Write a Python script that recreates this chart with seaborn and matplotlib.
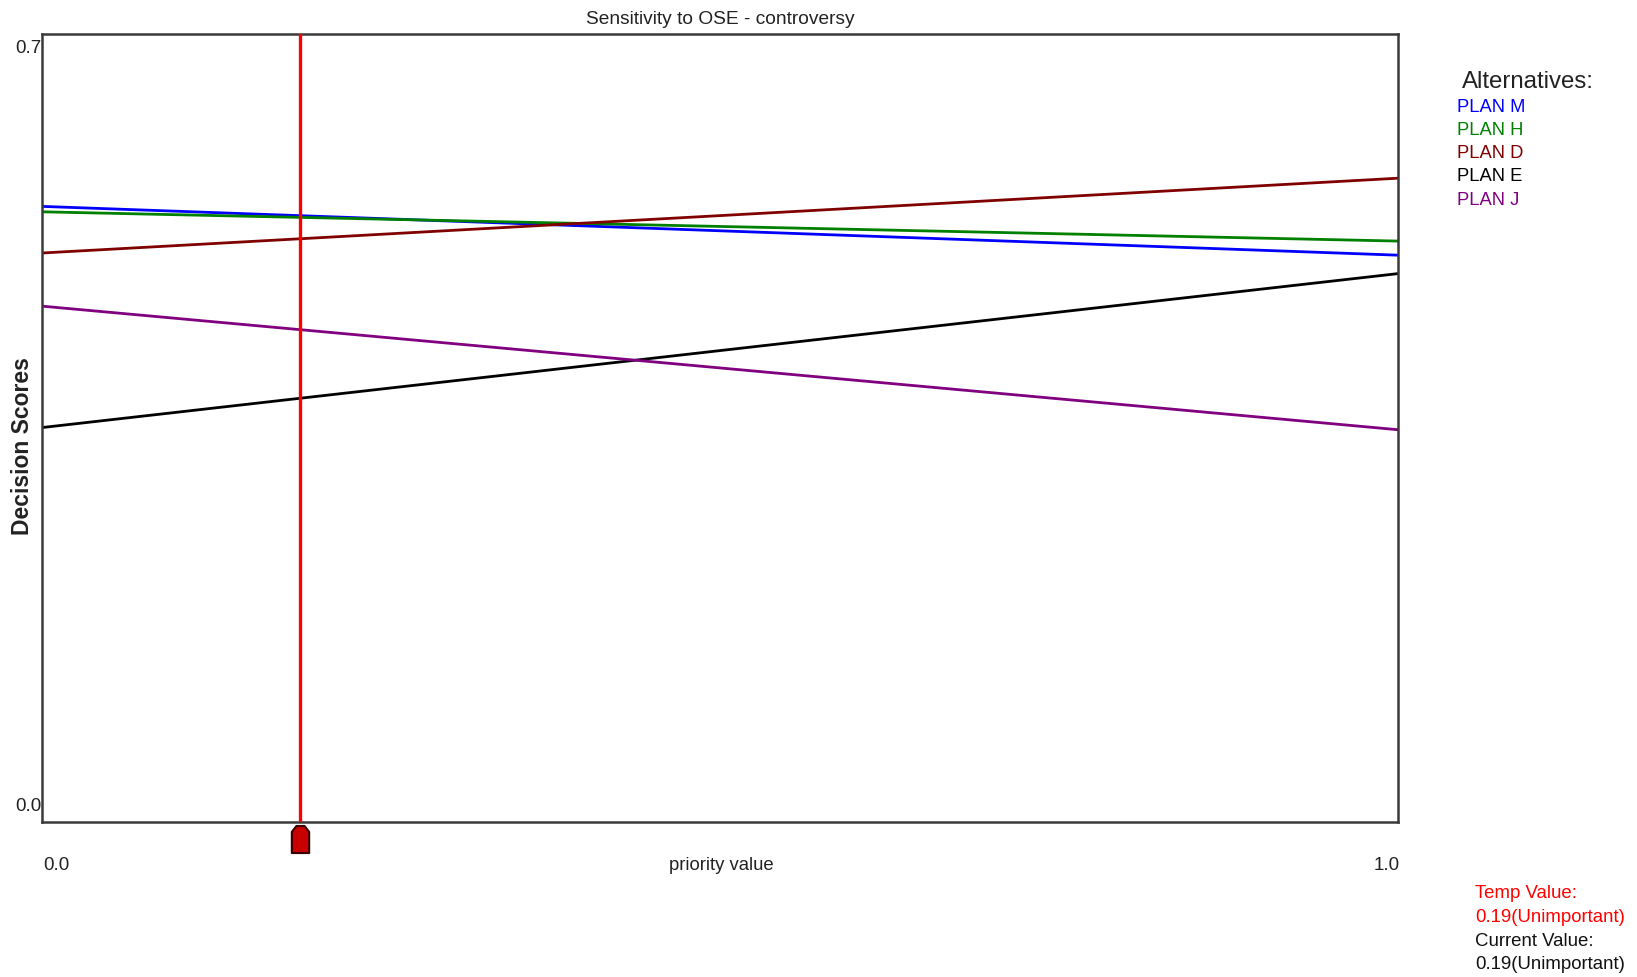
import numpy as np
import pandas as pd
import matplotlib
matplotlib.use("Agg")
import matplotlib.pyplot as plt
import matplotlib.transforms as mtransforms
from matplotlib.path import Path
import seaborn as sns

# ---------------- data ----------------
priority = [0.0, 1.0]
plan_m = [0.553, 0.508]
plan_h = [0.548, 0.521]
plan_d = [0.510, 0.579]
plan_e = [0.349, 0.491]
plan_j = [0.461, 0.347]
alternatives = ["PLAN M", "PLAN H", "PLAN D", "PLAN E", "PLAN J"]
colors = ["#0000FF", "#008000", "#800000", "#000000", "#800080"]
current_value = 0.19
y_tick_values = [0.0, 0.7]
y_tick_labels = ["0.0", "0.7"]
title = "Sensitivity to OSE - controversy"

series = [plan_m, plan_h, plan_d, plan_e, plan_j]
df = pd.DataFrame({
    "priority": priority * len(alternatives),
    "score": [v for s in series for v in s],
    "alt": [a for a in alternatives for _ in priority],
})

sns.set_theme(style="white")
plt.rcParams["font.family"] = ["Liberation Sans", "DejaVu Sans"]

W, H = 1637, 978
fig = plt.figure(figsize=(W / 100, H / 100), dpi=100)


def fx(x):
    return x / W


def fy(y):
    return 1 - y / H


ax_l, ax_r, ax_t, ax_b = 42, 1398, 35, 823
ax = fig.add_axes([fx(ax_l), fy(ax_b), (ax_r - ax_l) / W, (ax_b - ax_t) / H])

sns.lineplot(data=df, x="priority", y="score", hue="alt", hue_order=alternatives,
             palette=dict(zip(alternatives, colors)), linewidth=2.0, legend=False, ax=ax)

ax.set_xlim(0, 1)
ax.set_ylim(-0.0148, 0.712)
ax.set_xticks([])
ax.set_yticks([])
ax.set_xlabel("")
ax.set_ylabel("")
for sp in ax.spines.values():
    sp.set_color("#3a3a3a")
    sp.set_linewidth(1.8)

ax.axvline(current_value, color="#FF0000", lw=2.4, zorder=5)

# slider marker
mk = Path([(-0.32, -0.5), (0.32, -0.5), (0.32, 0.28), (0.15, 0.5), (-0.15, 0.5),
           (-0.32, 0.28), (-0.32, -0.5)],
          [Path.MOVETO, Path.LINETO, Path.LINETO, Path.LINETO, Path.LINETO,
           Path.LINETO, Path.CLOSEPOLY])
btrans = mtransforms.blended_transform_factory(ax.transData, ax.transAxes)
ax.plot([current_value], [(H - 840 - (H - ax_b)) / (ax_b - ax_t)], marker=mk,
        markersize=19.5, markerfacecolor="#C80000", markeredgecolor="#3a0000",
        markeredgewidth=1.5, transform=btrans, clip_on=False, zorder=6)

# y tick labels
ytrans = mtransforms.blended_transform_factory(ax.transAxes, ax.transData)
for v, lab in zip(y_tick_values, y_tick_labels):
    ax.text(0.0, v, lab, transform=ytrans, ha="right", va="center",
            fontsize=13.5, color="#222222")

# title and axis labels
fig.text(fx(720), fy(20), title, ha="center", va="center", fontsize=13.8, color="#222222")
fig.text(fx(23), fy(446), "Decision Scores", rotation=90, ha="center", va="center",
         fontsize=16.5, fontweight="bold", color="#222222")
fig.text(fx(43), fy(866), "0.0", ha="left", va="center", fontsize=13.5, color="#222222")
fig.text(fx(1400), fy(866), "1.0", ha="right", va="center", fontsize=13.5, color="#222222")
fig.text(fx(721), fy(866), "priority value", ha="center", va="center", fontsize=13.3,
         color="#222222")

# legend
fig.text(fx(1462), fy(82), "Alternatives:", ha="left", va="center", fontsize=17.3,
         color="#222222")
for i, (a, c) in enumerate(zip(alternatives, colors)):
    fig.text(fx(1457), fy(107 + i * 23.3), a, ha="left", va="center", fontsize=13.2, color=c)

# value info
fig.text(fx(1475), fy(894), "Temp Value:", ha="left", va="center", fontsize=13.4, color="#FF0000")
fig.text(fx(1475), fy(918), f"{current_value:.2f}(Unimportant)", ha="left", va="center",
         fontsize=13.4, color="#FF0000")
fig.text(fx(1475), fy(942), "Current Value:", ha="left", va="center", fontsize=13.4, color="#111111")
fig.text(fx(1475), fy(965), f"{current_value:.2f}(Unimportant)", ha="left", va="center",
         fontsize=13.4, color="#111111")

fig.savefig("out.png", dpi=100, facecolor="white")
